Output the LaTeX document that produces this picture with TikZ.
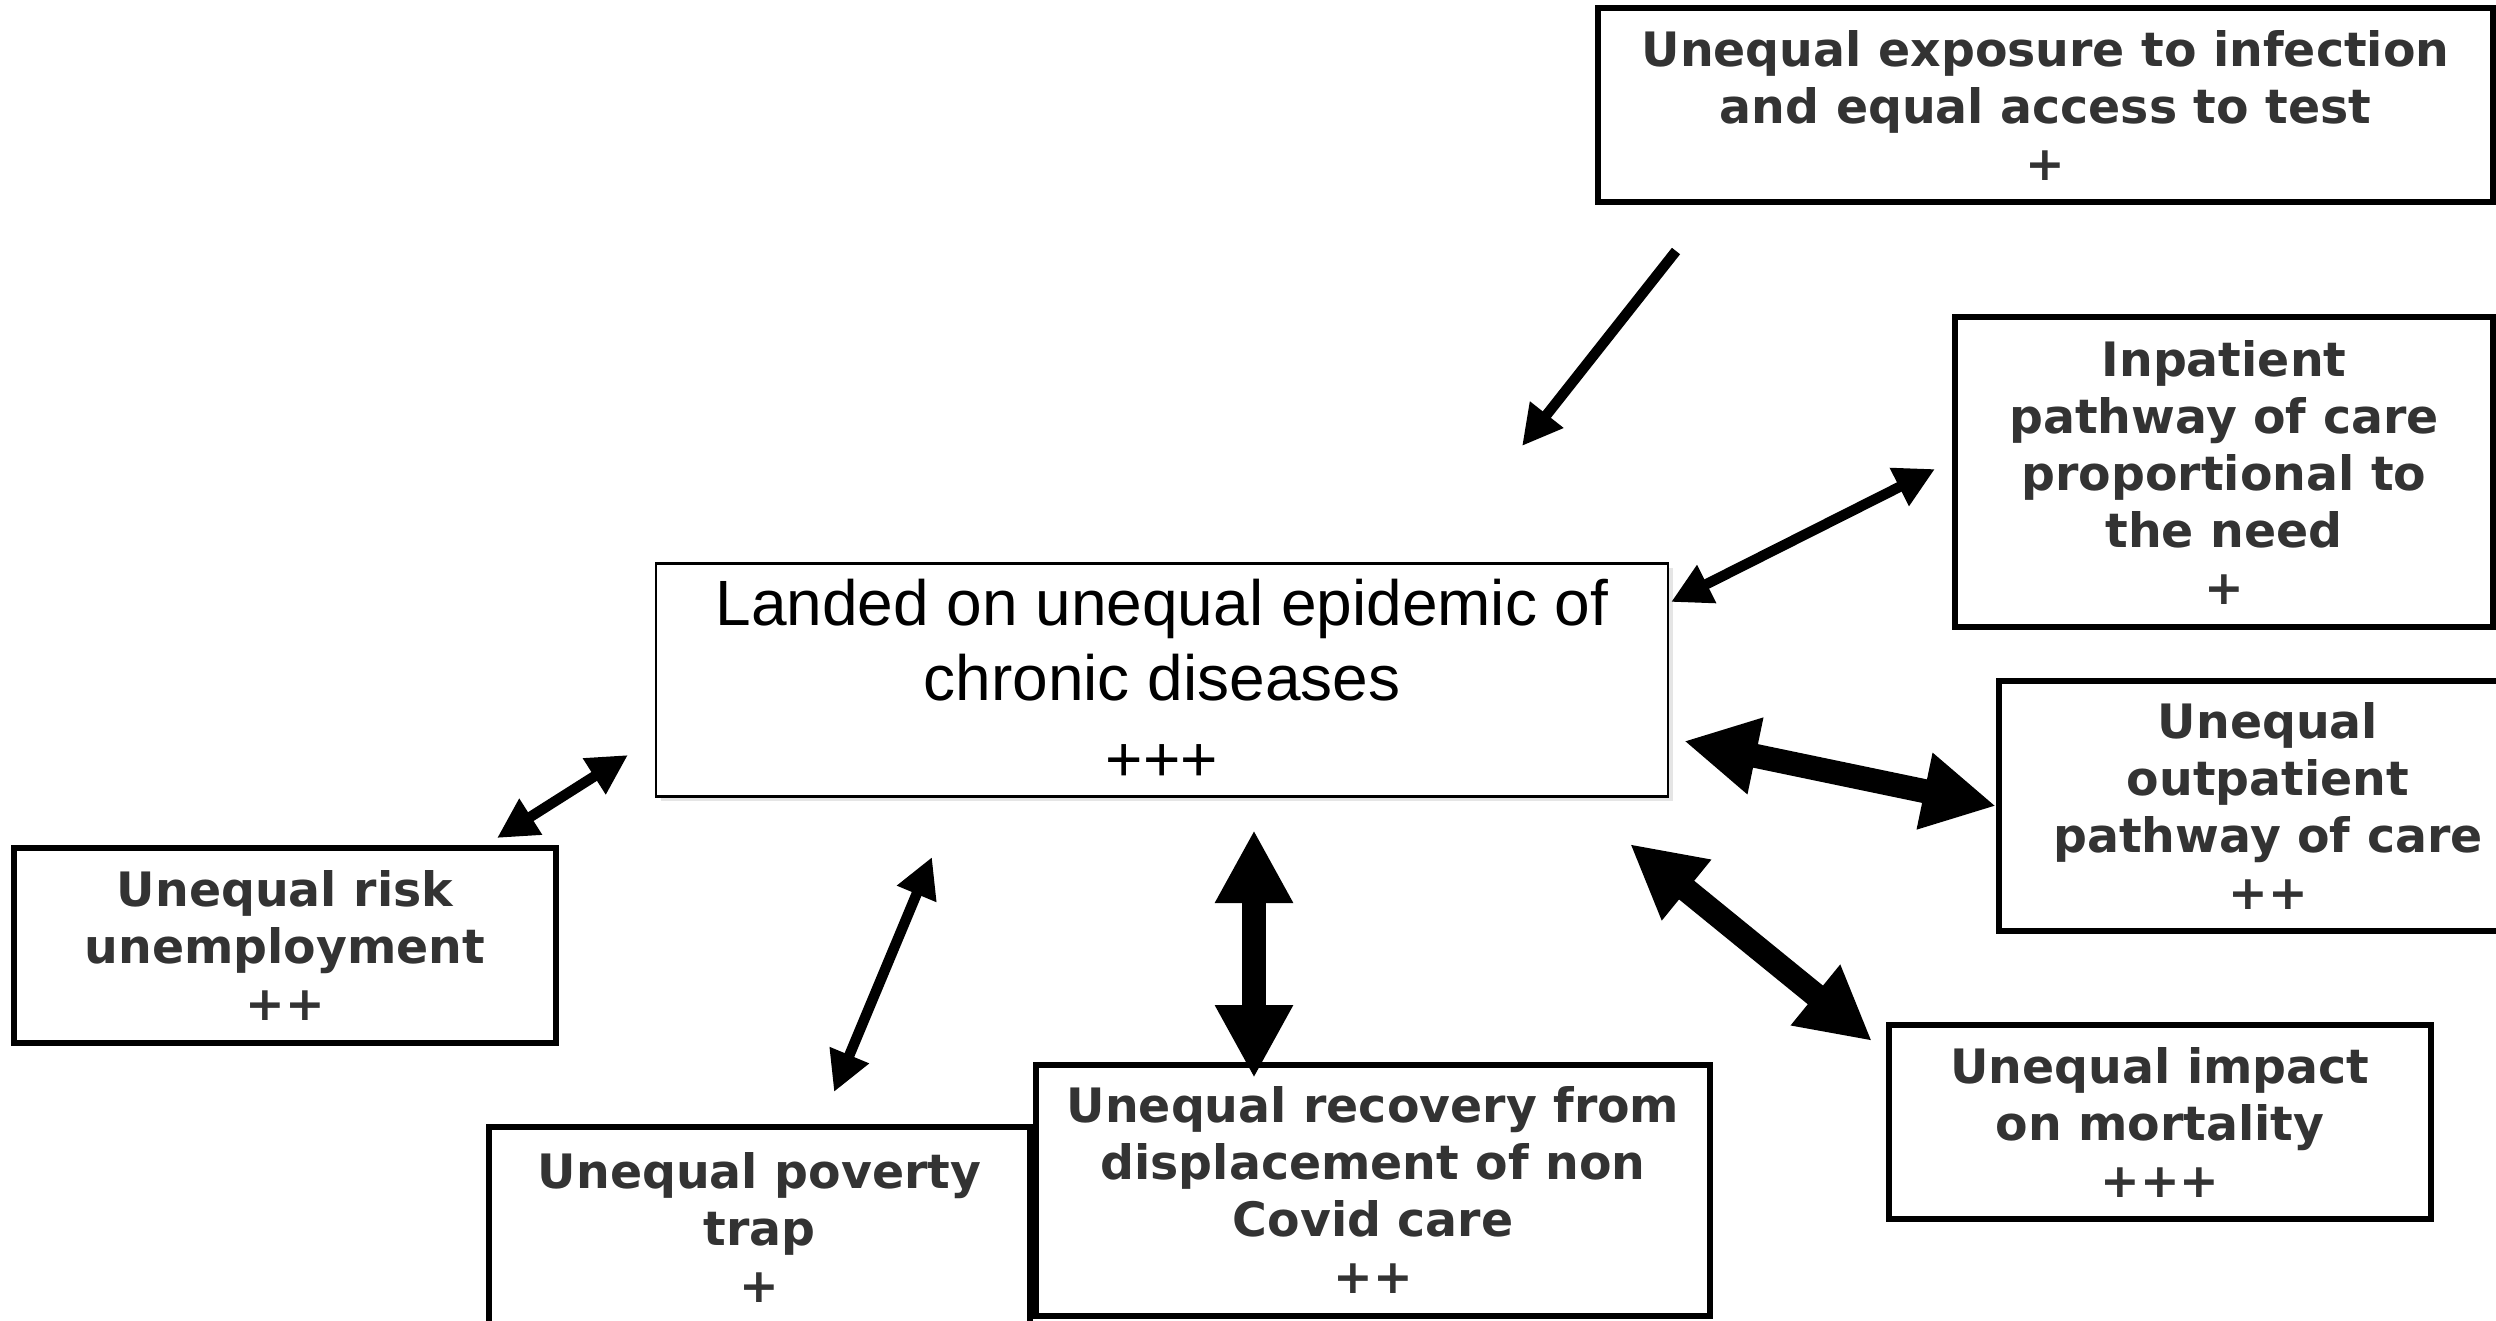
\documentclass[tikz,border=0pt]{standalone}
\usepackage{fontspec}
\usepackage{tikz}
\usetikzlibrary{arrows.meta,shadows}
\newfontfamily\labelfont{DejaVu Sans}
\newfontfamily\corefont{Liberation Sans}
\definecolor{textgray}{HTML}{333333}
\tikzset{
    factor/.style={
           rectangle,
           draw=black, line width=1.5pt,
           fill=white,
           inner sep=0pt,
           align=center,
           text=textgray,
           font=\labelfont\bfseries\fontsize{11.85pt}{14.25pt}\selectfont,
           },
    core/.style={
           rectangle,
           draw=black, line width=0.6pt,
           fill=white,
           drop shadow={shadow xshift=1.2pt, shadow yshift=-1.2pt, opacity=0.2},
           inner sep=0pt,
           align=center,
           text=black,
           font=\corefont\fontsize{16pt}{18.75pt}\selectfont,
           },
    link/.style={line width=2.6pt, >={Triangle[length=10pt,width=10pt]}},
    biglink/.style={line width=6pt, >={Triangle[length=18.25pt,width=18.25pt]}},
}

\begin{document}
\begin{tikzpicture}[x=0.25pt,y=-0.25pt]
        \clip (0,0) rectangle (2496,1320);
        \fill[white] (0,0) rectangle (2496,1320);

        % CENTRAL BOX
        % thin border and a soft shadow
        \node[core,
            minimum width=253pt,
            minimum height=58.25pt] (E_CORE) at (1162,680)
        {Landed on unequal epidemic of\\
         chronic diseases\\[1.5pt]
         +++};

        % FACTOR BOXES
        % bold labels, thick frame
        \node[factor,
            minimum width=223.75pt,
            minimum height=48.5pt] (E_EXPO) at (2045.5,105)
        {Unequal exposure to infection\\
         and equal access to test\\
         +};

        \node[factor,
            minimum width=134.5pt,
            minimum height=77.5pt] (E_INPAT) at (2224,472)
        {Inpatient\\
         pathway of care\\
         proportional to\\
         the need\\
         +};

        % runs past the right edge, as in the picture
        \node[factor,
            minimum width=134.5pt,
            minimum height=62.5pt] (E_OUTPAT) at (2268,806)
        {Unequal\\
         outpatient\\
         pathway of care\\
         ++};

        \node[factor,
            minimum width=135.5pt,
            minimum height=48.5pt] (E_MORT) at (2160,1122)
        {Unequal impact\\
         on mortality\\
         +++};

        \node[factor,
            minimum width=168.5pt,
            minimum height=62.75pt] (E_RECOV) at (1373,1190)
        {Unequal recovery from\\
         displacement of non\\
         Covid care\\
         ++};

        \node[factor,
            minimum width=135.25pt,
            minimum height=50pt] (E_POVERTY) at (759.5,1227)
        {Unequal poverty\\
         trap\\
         +};

        \node[factor,
            minimum width=135.5pt,
            minimum height=48.75pt] (E_UNEMP) at (285,945.5)
        {Unequal risk\\
         unemployment\\
         ++};

        % arrow ends (the arrows stop short of the boxes)
        \coordinate (expo_a) at (1676,251);
        \coordinate (expo_b) at (1522,446);
        \coordinate (inpat_a) at (1671,602);
        \coordinate (inpat_b) at (1935,469);
        \coordinate (outpat_a) at (1684,741);
        \coordinate (outpat_b) at (E_OUTPAT.west);
        \coordinate (mort_a) at (1630,844);
        \coordinate (mort_b) at (1872,1041);
        \coordinate (recov_a) at (1254,830);
        \coordinate (recov_b) at (1254,1078);
        \coordinate (pov_a) at (932,857);
        \coordinate (pov_b) at (834,1092);
        \coordinate (unemp_a) at (628,755);
        \coordinate (unemp_b) at (497,838);

        % draw the arrows
        \draw[link,->]     (expo_a) -- (expo_b);
        \draw[link,<->]    (inpat_a) -- (inpat_b);
        \draw[biglink,<->] (outpat_a) -- (outpat_b);
        \draw[biglink,<->] (mort_a) -- (mort_b);
        \draw[biglink,<->] (recov_a) -- (recov_b);
        \draw[link,<->]    (pov_a) -- (pov_b);
        \draw[link,<->]    (unemp_a) -- (unemp_b);

\end{tikzpicture}
\end{document}
